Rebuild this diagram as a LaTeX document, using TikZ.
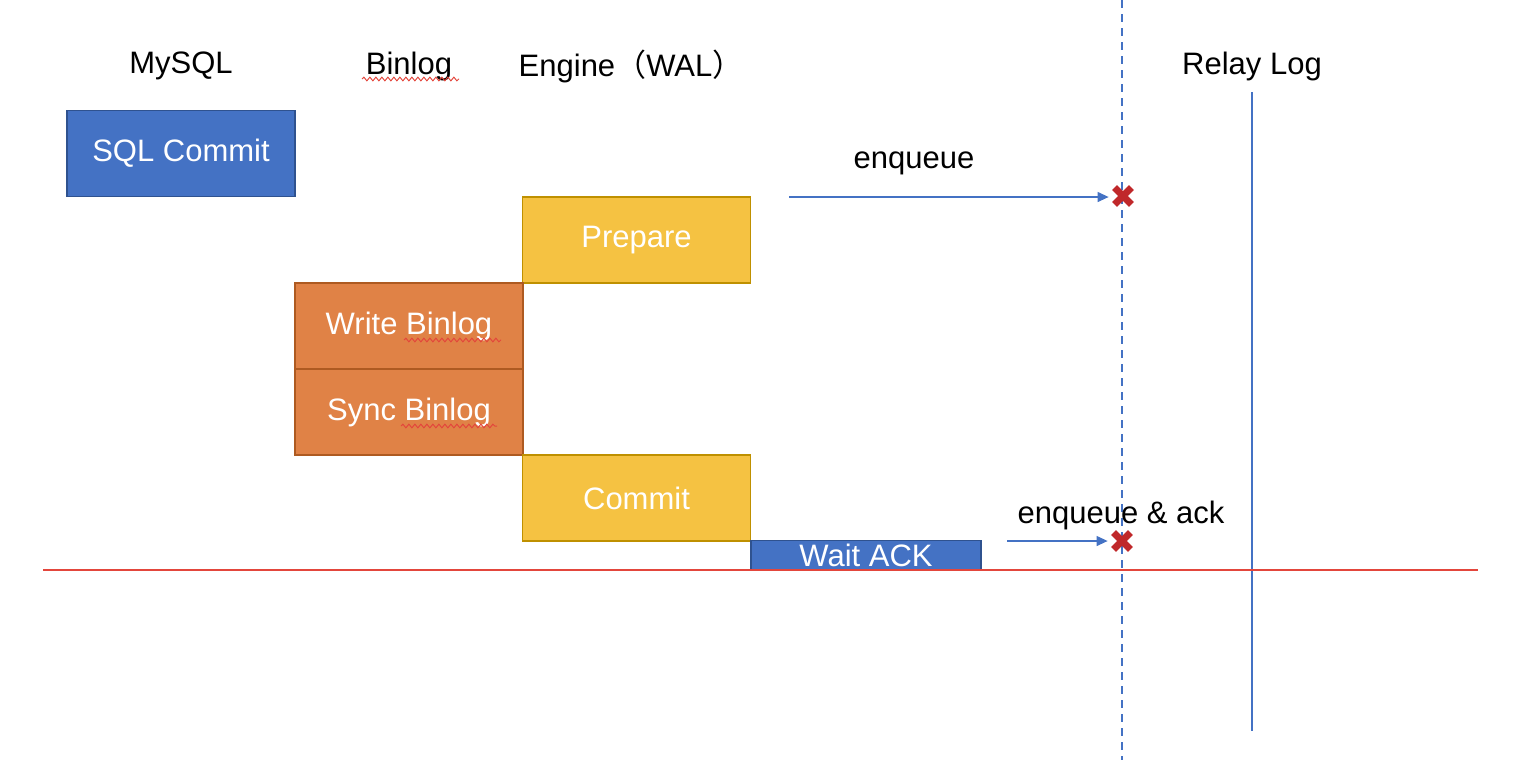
\documentclass[tikz,border=0pt]{standalone}
\usepackage{fontspec}
\setmainfont{Liberation Sans}
\newfontfamily\cjk{Noto Sans CJK SC}
\usetikzlibrary{arrows.meta,decorations.pathmorphing}
\definecolor{boxblue}{HTML}{4472C4}
\definecolor{boxblueline}{HTML}{2F528F}
\definecolor{boxyellow}{HTML}{F5C242}
\definecolor{boxyellowline}{HTML}{BF9000}
\definecolor{boxorange}{HTML}{E08246}
\definecolor{boxorangeline}{HTML}{AE5A21}
\definecolor{linered}{HTML}{E3463C}
\definecolor{xred}{HTML}{C0282A}
\definecolor{linkblue}{HTML}{4472C4}
\begin{document}
\begin{tikzpicture}[x=0.5pt,y=-0.5pt,
  lbl/.style={font=\fontsize{15.5}{18}\selectfont, text=black, inner sep=0pt},
  box/.style={draw, line width=0.6pt, font=\fontsize{15.5}{18}\selectfont, text=white, inner sep=0pt, minimum width=114pt, minimum height=43pt},
  bluebox/.style={box, fill=boxblue, draw=boxblueline},
  yellowbox/.style={box, fill=boxyellow, draw=boxyellowline},
  orangebox/.style={box, fill=boxorange, draw=boxorangeline},
  xmark/.style={minimum size=8pt, inner sep=0pt},
  xstroke/.style={draw=xred, line width=3.4pt},
  arr/.style={draw=linkblue, line width=0.6pt, -{Triangle[length=5.5pt,width=5pt]}},
  wavy/.style={draw=linered, line width=0.5pt, decorate, decoration={snake, amplitude=0.9pt, segment length=3pt}}
]
\useasboundingbox (0,0) rectangle (1514,778);

% column headers
\node[lbl] (hmysql) at (181,66) {MySQL};
\node[lbl] (hbinlog) at (409,66) {Binlog};
\node[lbl] (hengine) at (631,66) {Engine{\cjk （}WAL{\cjk ）}};
\node[lbl] (hrelay) at (1252,66) {Relay Log};

% vertical lines
\coordinate (dtop) at (1122,0);
\coordinate (dbot) at (1122,760);
\draw[linkblue, line width=1pt, dash pattern=on 4pt off 3pt] (dtop) -- (dbot);
\coordinate (rtop) at (1252,92);
\coordinate (rbot) at (1252,731);
\draw[linkblue, line width=1pt] (rtop) -- (rbot);

% boxes
\node[bluebox] (sql) at (181,153.5) {SQL Commit};
\node[yellowbox] (prep) at (636.5,240) {Prepare};
\node[orangebox] (wbin) at (409,326) {Write Binlog};
\node[orangebox] (sbin) at (409,412) {Sync Binlog};
\node[yellowbox] (comm) at (636.5,498) {Commit};
\node[bluebox, minimum height=15pt, minimum width=115pt] (wait) at (866,555.5) {Wait ACK};

% red baseline
\coordinate (rl) at (43,570);
\coordinate (rr) at (1478,570);
\draw[linered, line width=0.8pt] (rl) -- (rr);

% X marks
\node[xmark] (x1) at (1123,196) {};
\draw[xstroke] (x1.north west) -- (x1.south east) (x1.north east) -- (x1.south west);
\node[xmark] (x2) at (1122,541) {};
\draw[xstroke] (x2.north west) -- (x2.south east) (x2.north east) -- (x2.south west);

% arrows
\coordinate (e1) at (789,197);
\draw[arr] (e1) -- ([xshift=-3pt]x1.west|-e1);
\node[lbl] (l1) at (914,163) {enqueue};
\coordinate (e2) at (1007,541);
\draw[arr] (e2) -- ([xshift=-3pt]x2.west|-e2);
\node[lbl] (l2) at (1121,515) {enqueue \& ack};

% spell-check squiggles
\coordinate (s1a) at (362,79); \coordinate (s1b) at (459,79);
\draw[wavy] (s1a) -- (s1b);
\coordinate (s2a) at (404,340); \coordinate (s2b) at (501,340);
\draw[wavy] (s2a) -- (s2b);
\coordinate (s3a) at (401,426); \coordinate (s3b) at (497,426);
\draw[wavy] (s3a) -- (s3b);
\end{tikzpicture}
\end{document}
